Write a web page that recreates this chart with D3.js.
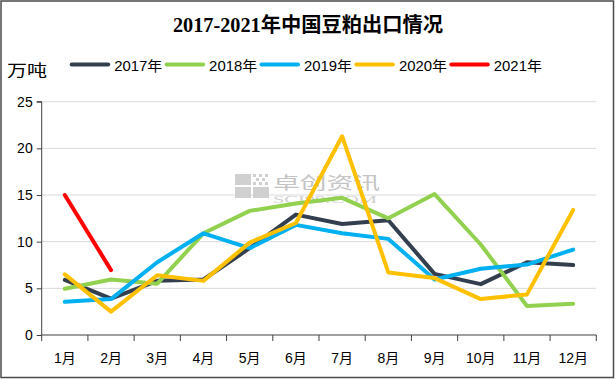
<!DOCTYPE html>
<html><head><meta charset="utf-8">
<script src="https://cdn.jsdelivr.net/npm/d3@7"></script>
<style>body{margin:0;background:#fff}svg{display:block}</style>
</head><body>
<svg id="c" width="616" height="380"></svg>
<script>
const months = ["1月","2月","3月","4月","5月","6月","7月","8月","9月","10月","11月","12月"];
const seriesNames = ["2017年","2018年","2019年","2020年","2021年"];
const colors = ["#333f4f","#92d050","#00b0f0","#ffc000","#ff0000"];
const v2017 = [5.9,3.9,5.8,5.95,9.3,12.9,11.9,12.3,6.55,5.45,7.8,7.5];
const v2018 = [4.95,5.95,5.5,10.9,13.3,14.1,14.7,12.5,15.1,9.7,3.1,3.35];
const v2019 = [3.55,3.85,7.8,10.9,9.3,11.8,10.9,10.3,5.95,7.1,7.55,9.15];
const v2020 = [6.5,2.5,6.4,5.8,9.9,12.0,21.3,6.7,6.1,3.85,4.35,13.4];
const v2021 = [15.0,6.95];
const yTicks = [0,5,10,15,20,25];
const title = "2017-2021年中国豆粕出口情况";
const unit = "万吨";

(function(){
const allSeries = [v2017,v2018,v2019,v2020,v2021];
const svg = d3.select("#c");
const font = "'Liberation Sans','Noto Sans CJK SC',sans-serif";

svg.append("rect").attr("x",1).attr("y",1).attr("width",612.5).attr("height",376.5)
  .attr("fill","#fff").attr("stroke","#4a4a4a").attr("stroke-width",1.5);

const pL=41.7, pR=596.3, pT=101.7, pB=335;
const x = d3.scaleBand().domain(months).range([pL,pR]).padding(0);
const y = d3.scaleLinear().domain([0,25]).range([pB,pT]);

svg.append("g").selectAll("line").data(yTicks.filter(d=>d>0)).join("line")
  .attr("x1",pL).attr("x2",pR).attr("y1",d=>y(d)).attr("y2",d=>y(d))
  .attr("stroke","#d9d9d9").attr("stroke-width",1);

// watermark
const wm = svg.append("g");
[[235,174],[235,187],[253,187]].forEach(([a,b])=>{
  wm.append("rect").attr("x",a).attr("y",b).attr("width",16).attr("height",11).attr("fill","#d0d0d0");
});
[[253,174],[259,174],[265,174],[256,178],[262,178],[253,182],[259,182],[265,182]].forEach(([a,b])=>{
  wm.append("rect").attr("x",a).attr("y",b).attr("width",3).attr("height",3).attr("fill","#d0d0d0");
});
wm.append("text").attr("x",273).attr("y",189).attr("font-size",17).attr("fill","#c4c4c4")
  .attr("font-family","'Noto Sans CJK SC',sans-serif").attr("textLength",107).attr("lengthAdjust","spacingAndGlyphs").text("卓创资讯");
wm.append("text").attr("x",273).attr("y",203).attr("font-size",11).attr("fill","#d0d0d0")
  .attr("font-family","'Liberation Serif',serif").attr("textLength",104).attr("lengthAdjust","spacingAndGlyphs").text("SCI99.COM");

const ya = svg.append("g").attr("transform",`translate(${pL},0)`)
  .call(d3.axisLeft(y).tickValues(yTicks).tickSize(5).tickPadding(4));
ya.selectAll("text").attr("font-size",14).attr("font-family",font).attr("fill","#000");
ya.selectAll("line,path").attr("stroke","#404040");
ya.select(".domain").attr("d",`M-5,${pT}H0V${pB}`);

const xa = svg.append("g").attr("transform",`translate(0,${pB})`)
  .call(d3.axisBottom(x).tickSize(0).tickPadding(18));
xa.selectAll("text").attr("font-size",14).attr("font-family",font).attr("fill","#000");
xa.select(".domain").attr("stroke","#404040").attr("d",`M${pL},0H${pR}`);
xa.append("g").selectAll("line").data(d3.range(13)).join("line")
  .attr("x1",i=>pL+i*x.step()).attr("x2",i=>pL+i*x.step()).attr("y1",0).attr("y2",6)
  .attr("stroke","#404040");

const line = d3.line().x((d,i)=>x(months[i])+x.bandwidth()/2).y(d=>y(d));
svg.append("g").selectAll("path").data(allSeries).join("path")
  .attr("d",d=>line(d)).attr("fill","none")
  .attr("stroke",(d,i)=>colors[i]).attr("stroke-width",4)
  .attr("stroke-linejoin","round").attr("stroke-linecap","round");

svg.append("text").attr("x",173).attr("y",32).attr("font-size",20).attr("font-weight","bold")
  .attr("font-family","'Liberation Serif','Noto Sans CJK SC',serif")
  .attr("textLength",270).attr("lengthAdjust","spacingAndGlyphs").text(title);

svg.append("text").attr("x",7).attr("y",76).attr("font-size",16).attr("font-family",font)
  .attr("textLength",40).attr("lengthAdjust","spacingAndGlyphs").text(unit);

const lg = svg.append("g").selectAll("g").data(seriesNames).join("g")
  .attr("transform",(d,i)=>`translate(${71.7+i*94.9},64.5)`);
lg.append("line").attr("x1",0).attr("x2",36.5).attr("y1",0).attr("y2",0)
  .attr("stroke",(d,i)=>colors[i]).attr("stroke-width",4).attr("stroke-linecap","round");
lg.append("text").attr("x",42.5).attr("y",6).attr("font-size",14).attr("font-family",font)
  .attr("textLength",48).attr("lengthAdjust","spacingAndGlyphs").text(d=>d);
})();
</script>
</body></html>
